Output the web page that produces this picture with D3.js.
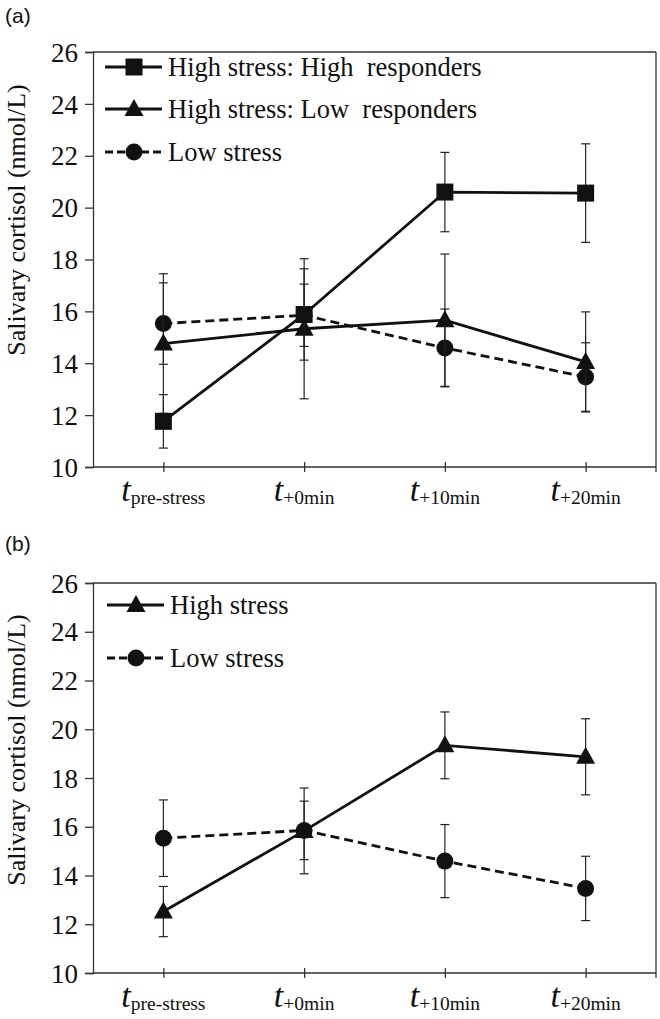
<!DOCTYPE html>
<html><head><meta charset="utf-8">
<script src="https://cdn.jsdelivr.net/npm/d3@7"></script>
<style>
body{margin:0;background:#fff;}
.serif{font-family:"Times New Roman","Liberation Serif",Times,"DejaVu Serif",serif !important;}
</style></head>
<body>
<svg id="chart" width="660" height="1019"></svg>
<script>
// ---- data ----
const categories = ["pre-stress", "+0min", "+10min", "+20min"];
const yTicks = [10, 12, 14, 16, 18, 20, 22, 24, 26];

// Panel (a)
const highRespMean = [11.76, 15.88, 20.60, 20.56];
const highRespErr  = [1.03, 1.76, 1.53, 1.90];
const lowRespMean  = [14.76, 15.33, 15.66, 14.05];
const lowRespErr   = [2.69, 2.70, 2.55, 1.93];
const lowStressMean = [15.53, 15.85, 14.59, 13.47];
const lowStressErr  = [1.57, 1.20, 1.50, 1.32];

// Panel (b)
const highStressMean = [12.52, 15.83, 19.34, 18.87];
const highStressErr  = [1.03, 1.76, 1.37, 1.56];

const svg = d3.select("#chart");

function markerPath(shape) {
  if (shape === "square") return "M-8.5,-8.5H8.5V8.5H-8.5Z";
  if (shape === "triangle") return "M0,-10L9.5,7L-9.5,7Z";
  return d3.arc()({innerRadius: 0, outerRadius: 8.5, startAngle: 0, endAngle: 2 * Math.PI});
}

function serifText(sel, size) {
  return sel.attr("class", "serif").style("font-size", size + "px").attr("fill", "#111");
}

function drawPanel(cfg) {
  const g = svg.append("g");
  const x = d3.scalePoint().domain(categories).range([cfg.left, cfg.right]).padding(0.5);
  const y = d3.scaleLinear().domain([10, 26]).range([cfg.bottom, cfg.top]);

  svg.append("text").attr("x", 5).attr("y", cfg.labelY).text(cfg.label)
    .style("font-family", "Arial, 'Liberation Sans', sans-serif").style("font-size", "21px").attr("fill", "#111");

  g.append("line").attr("x1", cfg.left).attr("x2", cfg.right).attr("y1", cfg.top).attr("y2", cfg.top)
    .attr("stroke", "#333").attr("stroke-width", 1.3);
  g.append("line").attr("x1", cfg.right).attr("x2", cfg.right).attr("y1", cfg.top).attr("y2", cfg.bottom + 5)
    .attr("stroke", "#333").attr("stroke-width", 1.3);

  const yAxis = d3.axisLeft(y).tickValues(yTicks).tickSize(8).tickPadding(7).tickFormat(d3.format("d"));
  const ya = g.append("g").attr("transform", `translate(${cfg.left},0)`).call(yAxis);
  ya.attr("font-family", null).attr("font-size", null);
  ya.select(".domain").attr("stroke", "#333").attr("stroke-width", 1.3);
  ya.selectAll(".tick line").attr("stroke", "#333").attr("stroke-width", 1.3);
  serifText(ya.selectAll(".tick text"), 27).attr("dy", "0.34em");

  const xAxis = d3.axisBottom(x).tickSize(5).tickFormat("");
  const xa = g.append("g").attr("transform", `translate(0,${cfg.bottom})`).call(xAxis);
  xa.select(".domain").remove();
  xa.append("line").attr("x1", cfg.left).attr("x2", cfg.right).attr("stroke", "#333").attr("stroke-width", 1.3);
  xa.selectAll(".tick line").attr("y1", -5).attr("y2", 5).attr("stroke", "#333").attr("stroke-width", 1.3);
  categories.forEach(c => {
    const t = serifText(g.append("text"), 19).attr("x", x(c)).attr("y", cfg.bottom + 34).attr("text-anchor", "middle");
    t.append("tspan").text("t").style("font-style", "italic").style("font-size", "34px");
    t.append("tspan").text(c).style("font-size", "19.5px").attr("dy", 3);
  });

  serifText(g.append("text"), 26)
    .attr("transform", `translate(${cfg.titleX},${cfg.titleY}) rotate(-90)`)
    .attr("text-anchor", "middle")
    .text("Salivary cortisol (nmol/L)");

  cfg.series.forEach(s => {
    const data = s.mean.map((m, i) => ({c: categories[i], m, e: s.err[i]}));
    const sg = g.append("g");
    sg.selectAll("line.eb").data(data).enter().append("line").attr("class", "eb")
      .attr("x1", d => x(d.c)).attr("x2", d => x(d.c))
      .attr("y1", d => y(d.m - d.e)).attr("y2", d => y(d.m + d.e))
      .attr("stroke", "#222").attr("stroke-width", 1.2);
    [-1, 1].forEach(sign => {
      sg.selectAll("line.cap" + (sign > 0 ? "p" : "m")).data(data).enter().append("line")
        .attr("class", "cap" + (sign > 0 ? "p" : "m"))
        .attr("x1", d => x(d.c) - 4.5).attr("x2", d => x(d.c) + 4.5)
        .attr("y1", d => y(d.m + sign * d.e)).attr("y2", d => y(d.m + sign * d.e))
        .attr("stroke", "#222").attr("stroke-width", 1.2);
    });
    sg.append("path").datum(data)
      .attr("d", d3.line().x(d => x(d.c)).y(d => y(d.m)))
      .attr("fill", "none").attr("stroke", "#111").attr("stroke-width", 2.8)
      .attr("stroke-dasharray", s.dashed ? "9,5" : null);
    sg.selectAll("path.mk").data(data).enter().append("path").attr("class", "mk")
      .attr("transform", d => `translate(${x(d.c)},${y(d.m)})`)
      .attr("d", markerPath(s.shape)).attr("fill", "#111");
  });

  cfg.series.forEach(s => {
    const ly = cfg.legendY[s.legendIdx];
    const lg = g.append("g");
    lg.append("line").attr("x1", cfg.legendX0).attr("x2", cfg.legendX0 + 57).attr("y1", ly).attr("y2", ly)
      .attr("stroke", "#111").attr("stroke-width", 2.8).attr("stroke-dasharray", s.dashed ? "8,4" : null);
    lg.append("path").attr("transform", `translate(${cfg.legendX0 + 29},${ly})`)
      .attr("d", markerPath(s.shape)).attr("fill", "#111");
    serifText(lg.append("text"), 26.5).attr("x", cfg.legendX0 + 63).attr("y", ly + 9)
      .style("white-space", "pre").text(s.name);
  });
}

drawPanel({
  label: "(a)", labelY: 23,
  top: 52, bottom: 467, left: 93, right: 656,
  titleX: 25, titleY: 220,
  legendX0: 105, legendY: [67, 109, 152],
  series: [
    {name: "Low stress", mean: lowStressMean, err: lowStressErr, shape: "circle", dashed: true, legendIdx: 2},
    {name: "High stress: Low  responders", mean: lowRespMean, err: lowRespErr, shape: "triangle", dashed: false, legendIdx: 1},
    {name: "High stress: High  responders", mean: highRespMean, err: highRespErr, shape: "square", dashed: false, legendIdx: 0}
  ]
});

drawPanel({
  label: "(b)", labelY: 551,
  top: 583, bottom: 973, left: 93, right: 656,
  titleX: 25, titleY: 750,
  legendX0: 107, legendY: [605, 658],
  series: [
    {name: "High stress", mean: highStressMean, err: highStressErr, shape: "triangle", dashed: false, legendIdx: 0},
    {name: "Low stress", mean: lowStressMean, err: lowStressErr, shape: "circle", dashed: true, legendIdx: 1}
  ]
});
</script>
</body></html>
